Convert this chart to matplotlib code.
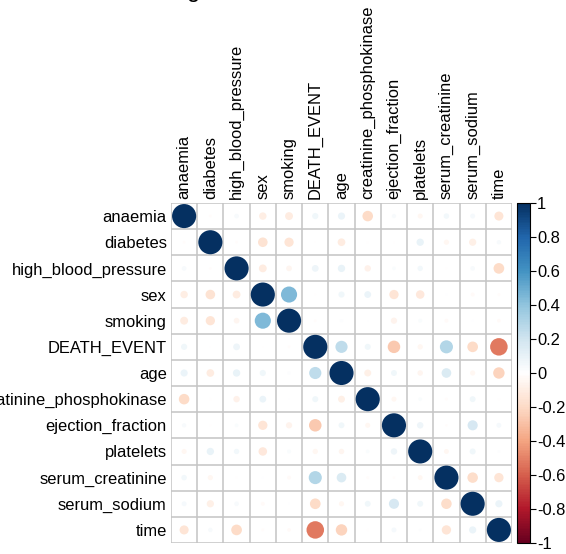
import numpy as np
import matplotlib
matplotlib.use("Agg")
import matplotlib.pyplot as plt
from matplotlib.patches import Circle
from matplotlib.collections import PatchCollection
from matplotlib.colors import LinearSegmentedColormap, Normalize

plt.rcParams['font.family'] = ['Liberation Sans', 'DejaVu Sans']
plt.rcParams['axes.unicode_minus'] = False

variables = ['anaemia', 'diabetes', 'high_blood_pressure', 'sex', 'smoking',
             'DEATH_EVENT', 'age', 'creatinine_phosphokinase', 'ejection_fraction',
             'platelets', 'serum_creatinine', 'serum_sodium', 'time']

# correlation matrix, row by row
corr = np.array([
    [1, -0.013, 0.038, -0.095, -0.107, 0.066, 0.088, -0.191, 0.032, -0.044, 0.052, 0.042, -0.141],
    [-0.013, 1, -0.013, -0.158, -0.147, -0.002, -0.101, -0.010, -0.005, 0.092, -0.047, -0.090, 0.034],
    [0.038, -0.013, 1, -0.105, -0.056, 0.079, 0.093, -0.071, 0.024, 0.050, -0.005, 0.037, -0.196],
    [-0.095, -0.158, -0.105, 1, 0.446, -0.004, 0.065, 0.080, -0.148, -0.125, 0.007, -0.028, -0.016],
    [-0.107, -0.147, -0.056, 0.446, 1, -0.013, 0.019, 0.002, -0.067, 0.028, -0.027, 0.005, -0.023],
    [0.066, -0.002, 0.079, -0.004, -0.013, 1, 0.254, 0.063, -0.269, -0.049, 0.294, -0.195, -0.527],
    [0.088, -0.101, 0.093, 0.065, 0.019, 0.254, 1, -0.082, 0.060, -0.052, 0.159, -0.046, -0.224],
    [-0.191, -0.010, -0.071, 0.080, 0.002, 0.063, -0.082, 1, -0.044, 0.024, -0.016, 0.060, -0.009],
    [0.032, -0.005, 0.024, -0.148, -0.067, -0.269, 0.060, -0.044, 1, 0.072, -0.011, 0.176, 0.042],
    [-0.044, 0.092, 0.050, -0.125, 0.028, -0.049, -0.052, 0.024, 0.072, 1, -0.041, 0.062, 0.011],
    [0.052, -0.047, -0.005, 0.007, -0.027, 0.294, 0.159, -0.016, -0.011, -0.041, 1, -0.189, -0.149],
    [0.042, -0.090, 0.037, -0.028, 0.005, -0.195, -0.046, 0.060, 0.176, 0.062, -0.189, 1, 0.088],
    [-0.141, 0.034, -0.196, -0.016, -0.023, -0.527, -0.224, -0.009, 0.042, 0.011, -0.149, 0.088, 1],
])

cbar_ticks = [-1, -0.8, -0.6, -0.4, -0.2, 0, 0.2, 0.4, 0.6, 0.8, 1]

rdbu = ['#67001F', '#B2182B', '#D6604D', '#F4A582', '#FDDBC7', '#FFFFFF',
        '#D1E5F0', '#92C5DE', '#4393C3', '#2166AC', '#053061']
cmap = LinearSegmentedColormap.from_list('col2', rdbu, N=200)
norm = Normalize(-1, 1)

W, H = 566, 554
fig = plt.figure(figsize=(W / 100, H / 100), dpi=100)
ax = fig.add_axes([171 / W, (H - 543) / H, 341 / W, 340 / H])

n = len(variables)
circles = []
cols = []
for i in range(n):
    for j in range(n):
        r = corr[i, j]
        circles.append(Circle((j, i), 0.46 * np.sqrt(abs(r))))
        cols.append(cmap(norm(r)))
ax.add_collection(PatchCollection(circles, facecolors=cols, edgecolors='none', zorder=2))

for k in range(n + 1):
    ax.axhline(k - 0.5, color='#C4C4C4', lw=1.1, zorder=1)
    ax.axvline(k - 0.5, color='#C4C4C4', lw=1.1, zorder=1)

ax.set_xlim(-0.5, n - 0.5)
ax.set_ylim(n - 0.5, -0.5)
for s in ax.spines.values():
    s.set_visible(False)

ax.xaxis.tick_top()
ax.set_xticks(range(n))
ax.set_xticklabels(variables, rotation=90, fontsize=11.9)
ax.set_yticks(range(n))
ax.set_yticklabels(variables, fontsize=11.9)
ax.tick_params(length=0, pad=3)

# colour legend
cax = fig.add_axes([517 / W, (H - 543) / H, 13 / W, 340 / H])
cb = fig.colorbar(plt.cm.ScalarMappable(norm=norm, cmap=cmap), cax=cax)
cb.set_ticks(cbar_ticks)
cb.set_ticklabels(['%g' % t for t in cbar_ticks])
cb.outline.set_linewidth(0.8)
cax.tick_params(labelsize=11.9, length=4, width=0.8, pad=1)

# title, mostly cut off at the top edge
fig.text(187 / W, 1.0 + 3 / H, 'g', fontsize=17, ha='left', va='baseline')

fig.savefig('out.png', dpi=100)
